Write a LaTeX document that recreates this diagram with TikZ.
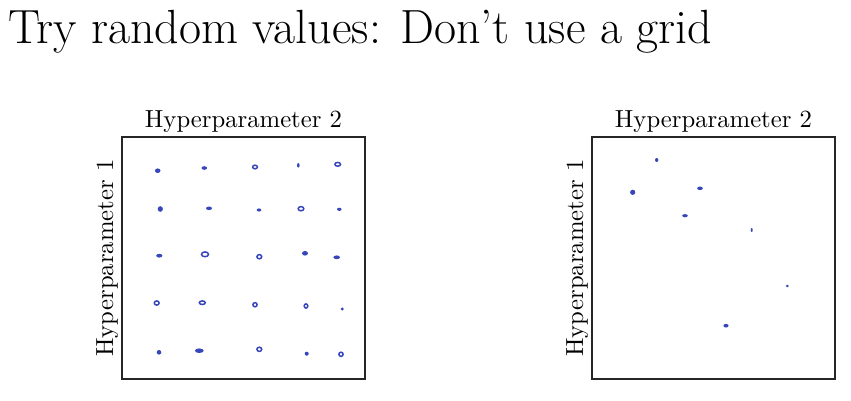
\documentclass[tikz,border=0pt]{standalone}
\newcommand{\biglbl}[1]{\scalebox{2.47}{\fontsize{10}{12}\selectfont #1}}
\begin{document}
\definecolor{dotblue}{RGB}{55,70,185}
\begin{tikzpicture}[x=1pt,y=-1pt,
  frame/.style={draw=black!85,line width=1.3pt},
  dotmark/.style={fill=dotblue},
  ringmark/.style={draw=dotblue,line width=1.5pt},
  lbl/.style={inner sep=0pt}]
\useasboundingbox (0,0) rectangle (851,400);
\node[anchor=base west,inner sep=0pt,font=\fontsize{48}{56}\selectfont] (title) at (8,43) {Try random values: Don't use a grid};
% left box
\draw[frame] (122,137) rectangle (365,379);
\node[lbl,anchor=base] (l2a) at (243.5,127.5) {\biglbl{Hyperparameter 2}};
\node[lbl,anchor=base,rotate=90] (l1a) at (113,258) {\biglbl{Hyperparameter 1}};
% grid points
\foreach \x/\y/\a/\b in {
157.7/170.7/2.8/2.3, 204.3/168/2.8/1.8, 298.3/165.3/1.3/2.3,
160.3/209/2.6/2.8, 209/208.3/3/1.8, 259/210/2.3/1.6, 339.3/209.3/2.3/1.6,
159.3/255.7/3.1/1.9, 305/253.3/3/2.3, 336.7/257.3/3.3/1.9,
342.3/309/1.6/1.6,
159/352.3/2.3/2.3, 199.3/350.7/4.4/2.3, 306.7/353.7/2/2}
  \fill[dotmark] (\x,\y) ellipse [x radius=\a, y radius=\b];
\foreach \x/\y/\a/\b in {
255/167/2.4/1.8, 337.7/164.3/2.8/1.9, 301/208.7/2.8/2.1,
205/254.3/3.5/2.4, 259.3/256.7/2.4/2.1,
156.7/303/2.4/2.1, 202.3/302.7/3/1.8, 255/304.7/2.1/2.1, 306/306/1.8/2.1,
259.3/349.3/2.4/2.1, 341/354.3/2.1/2.1}
  \draw[ringmark] (\x,\y) ellipse [x radius=\a, y radius=\b];
% right box
\draw[frame] (592,137) rectangle (835,379);
\node[lbl,anchor=base] (l2b) at (713.5,127.5) {\biglbl{Hyperparameter 2}};
\node[lbl,anchor=base,rotate=90] (l1b) at (583,258) {\biglbl{Hyperparameter 1}};
\foreach \x/\y/\a/\b in {
656.7/160/1.7/2, 632.7/192.3/2.6/2.6, 700/188.3/2.8/1.8, 685/215.7/2.8/1.6,
751.7/230/1/2, 787.3/286/1.6/1.3, 726/325.7/2.6/1.8}
  \fill[dotmark] (\x,\y) ellipse [x radius=\a, y radius=\b];
\end{tikzpicture}
\end{document}
